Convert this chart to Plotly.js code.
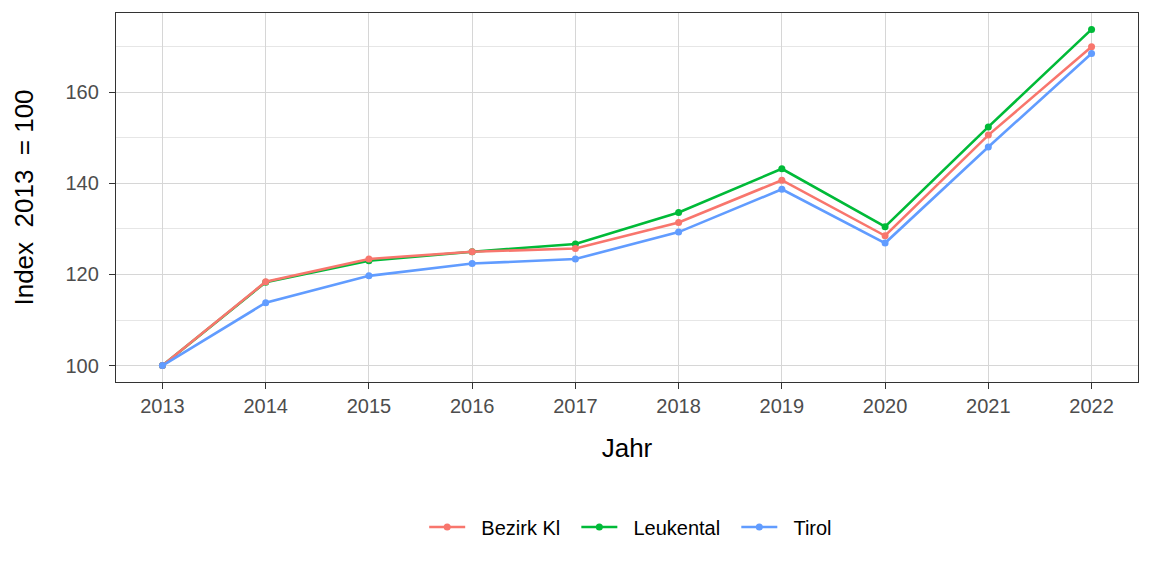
<!DOCTYPE html>
<html>
<head>
<meta charset="utf-8">
<script src="https://cdn.plot.ly/plotly-3.0.1.min.js"></script>
<style>html,body{margin:0;padding:0;background:#fff;}#chart{width:1152px;height:576px;}</style>
</head>
<body>
<div id="chart"></div>
<script>
const years = [2013, 2014, 2015, 2016, 2017, 2018, 2019, 2020, 2021, 2022];
const bezirkKl = [100, 118.4, 123.4, 125.0, 125.7, 131.4, 140.7, 128.5, 150.6, 170.0];
const leukental = [100, 118.3, 123.0, 125.0, 126.7, 133.6, 143.2, 130.5, 152.4, 173.8];
const tirol = [100, 113.8, 119.7, 122.4, 123.4, 129.3, 138.7, 126.9, 148.0, 168.5];
const seriesNames = ["Bezirk Kl", "Leukental", "Tirol"];
const seriesColors = ["#F8766D", "#00BA38", "#619CFF"];
const yTicks = [100, 120, 140, 160];

const allSeries = [bezirkKl, leukental, tirol];
const pad = "\u00a0\u00a0";
// draw order: Leukental under Bezirk Kl, Tirol on top; legend keeps original order
const drawOrder = [1, 0, 2];
const traces = drawOrder.map(i => ({
  x: years, y: allSeries[i], name: pad + seriesNames[i] + pad, type: "scatter", mode: "lines+markers",
  legendrank: i + 1,
  line: {color: seriesColors[i], width: 2.6},
  marker: {color: seriesColors[i], size: 7, symbol: "circle"}
}));

const layout = {
  width: 1152, height: 576,
  paper_bgcolor: "#fff", plot_bgcolor: "#fff",
  margin: {l: 116, r: 14, t: 13, b: 194},
  font: {family: "Liberation Sans, Arial, sans-serif"},
  showlegend: true,
  legend: {orientation: "h", x: 0.509, xanchor: "center", y: -0.393, yanchor: "middle",
           font: {size: 20, color: "#000"}, itemwidth: 36},
  xaxis: {
    range: [2012.55, 2022.45], tickvals: years, ticktext: years.map(String),
    showgrid: true, gridcolor: "#d6d6d6", gridwidth: 1,
    zeroline: false, showline: true, linecolor: "#333", linewidth: 1.2, mirror: true,
    ticks: "outside", ticklen: 6, tickcolor: "#333", tickwidth: 1,
    tickfont: {size: 20, color: "#4d4d4d"},
    title: {text: "Jahr", font: {size: 26, color: "#000"}, standoff: 22}
  },
  yaxis: {
    range: [96.4, 177.4], tickvals: yTicks, ticktext: yTicks.map(String),
    showgrid: true, gridcolor: "#d6d6d6", gridwidth: 1,
    minor: {dtick: 10, tick0: 110, showgrid: true, gridcolor: "#e6e6e6", gridwidth: 1, ticks: ""},
    zeroline: false, showline: true, linecolor: "#333", linewidth: 1.2, mirror: true,
    ticks: "outside", ticklen: 6, tickcolor: "#333", tickwidth: 1,
    ticklabelstandoff: 6,
    tickfont: {size: 20, color: "#4d4d4d"},
    title: {text: "Index\u00a0 2013 \u00a0= 100", font: {size: 26, color: "#000"}, standoff: 24}
  }
};

Plotly.newPlot("chart", traces, layout, {displayModeBar: false, staticPlot: true});
</script>
</body>
</html>
